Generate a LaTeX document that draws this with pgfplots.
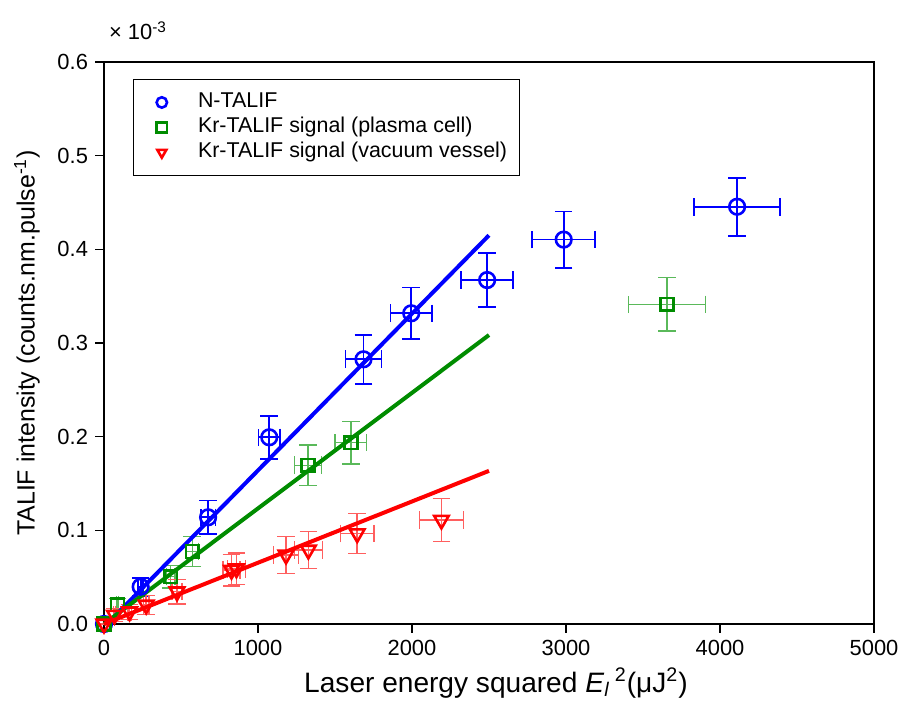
\documentclass[border=0pt]{standalone}
\usepackage{fontspec}
\setmainfont{Liberation Sans}
\usepackage{pgfplots}
\usepackage{pgfplotstable}
\pgfplotsset{compat=1.18}
\definecolor{cblue}{RGB}{0,0,255}
\definecolor{cgreen}{RGB}{0,140,0}
\definecolor{cred}{RGB}{255,0,0}
\definecolor{egreen}{RGB}{90,185,90}
\definecolor{ered}{RGB}{255,95,95}
\pgfplotsset{myleg/.style={legend image code/.code={\path (-8.5bp,0pt) (0pt,0pt); \draw[##1] plot coordinates {(0cm,0cm)};}}}

\pgfplotstableread{
x y ex ey
0 0 0 0
238 0.0398 16 0.0095
676 0.1139 48 0.018
1073 0.1993 70 0.023
1685 0.2826 117 0.0263
1995 0.3317 134 0.0276
2488 0.3672 169 0.029
2985 0.4104 204 0.030
4111 0.4455 279 0.031
}\ntalif

\pgfplotstableread{
x y ex ey
0 0 0 0
88 0.0205 6 0.007
433 0.0505 29 0.012
573 0.0775 39 0.016
1325 0.1695 89 0.0215
1603 0.1936 103 0.0228
3656 0.3413 250 0.0286
}\krplasma

\pgfplotstableread{
x y ex ey
0 0 0 0
68 0.0096 5 0.007
166 0.0131 11 0.008
274 0.0203 18 0.010
474 0.0345 32 0.013
828 0.0575 56 0.017
860 0.0590 58 0.017
1182 0.0737 80 0.020
1327 0.0790 90 0.020
1644 0.0965 110 0.0213
2191 0.1110 143 0.0228
}\krvacuum

\begin{document}
\begin{tikzpicture}
\begin{axis}[
  scale only axis,
  width=385bp, height=281bp,
  xmin=0, xmax=5000, ymin=0, ymax=0.6,
  xtick={0,1000,2000,3000,4000,5000},
  ytick={0,0.1,0.2,0.3,0.4,0.5,0.6},
  minor tick num=0,
  tick align=outside,
  xtick pos=bottom, ytick pos=left,
  major tick length=4.5bp,
  tick style={black, line width=0.6bp},
  axis line style={line width=0.8bp},
  /pgf/number format/assume math mode=true,
  /pgf/number format/1000 sep={},
  yticklabel style={/pgf/number format/fixed, /pgf/number format/fixed zerofill, /pgf/number format/precision=1},
  ticklabel style={font=\fontsize{11}{13}\selectfont},
  xlabel={Laser energy squared \textit{E}\textsubscript{\textit{l}}\,\textsuperscript{2}(μJ\textsuperscript{2})},
  ylabel={TALIF intensity (counts.nm.pulse\textsuperscript{-1})},
  label style={font=\fontsize{14.1}{16}\selectfont},
  xlabel style={at={(axis description cs:0.509,-0.105)}, anchor=center},
  ylabel style={at={(axis description cs:-0.1,0.5)}, anchor=center, font=\fontsize{12.5}{14}\selectfont},
  legend style={at={(axis description cs:0.0377,0.97)}, anchor=north west,
    font=\fontsize{10.75}{12}\selectfont, draw=black, line width=0.6bp,
    inner xsep=5bp, inner ysep=5.5bp, row sep=0.5bp, column sep=14.5bp,
    nodes={inner sep=1bp, text height=7.5bp, text depth=2.5bp},
    cells={anchor=west}},
  legend cell align=left,
  legend image post style={mark size=2.6bp, line width=1.2bp},
  clip=false,
]
\addplot[only marks, myleg, mark=o, mark size=3.9bp, mark options={cblue, line width=1.3bp, fill=white},
  error bars/.cd, x dir=both, y dir=both, x explicit, y explicit,
  error bar style={cblue, line width=0.9bp}, error mark options={rotate=90, cblue, line width=0.9bp, mark size=4.4bp}]
  table[x=x, y=y, x error=ex, y error=ey]{\ntalif};
\addlegendentry{N-TALIF}
\addplot[only marks, myleg, mark=square, mark size=3.2bp, mark options={cgreen, line width=1.3bp, fill=white},
  error bars/.cd, x dir=both, y dir=both, x explicit, y explicit,
  error bar style={egreen, line width=0.7bp}, error mark options={rotate=90, egreen, line width=0.7bp, mark size=4.4bp}]
  table[x=x, y=y, x error=ex, y error=ey]{\krplasma};
\addlegendentry{Kr-TALIF signal (plasma cell)}
\addplot[only marks, myleg, mark=triangle, mark size=4.2bp, mark options={cred, line width=1.3bp, fill=white, rotate=180},
  error bars/.cd, x dir=both, y dir=both, x explicit, y explicit,
  error bar style={ered, line width=0.7bp}, error mark options={rotate=90, ered, line width=0.7bp, mark size=4.4bp}]
  table[x=x, y=y, x error=ex, y error=ey]{\krvacuum};
\addlegendentry{Kr-TALIF signal (vacuum vessel)}
\addplot[cblue, line width=2bp, forget plot] coordinates {(20,0) (2500,0.415)};
\addplot[cgreen, line width=2bp, forget plot] coordinates {(0,0) (2500,0.3085)};
\addplot[cred, line width=2bp, forget plot] coordinates {(0,0) (2500,0.1635)};
\node[anchor=base west, font=\fontsize{11}{13}\selectfont] at ([xshift=-1bp,yshift=11bp]rel axis cs:0,1) {× 10\textsuperscript{-3}};
\end{axis}
\pgfresetboundingbox
\path[use as bounding box] ([xshift=-52bp,yshift=-45.5bp]current axis.south west) rectangle ([xshift=12.5bp,yshift=31bp]current axis.north east);
\end{tikzpicture}
\end{document}
